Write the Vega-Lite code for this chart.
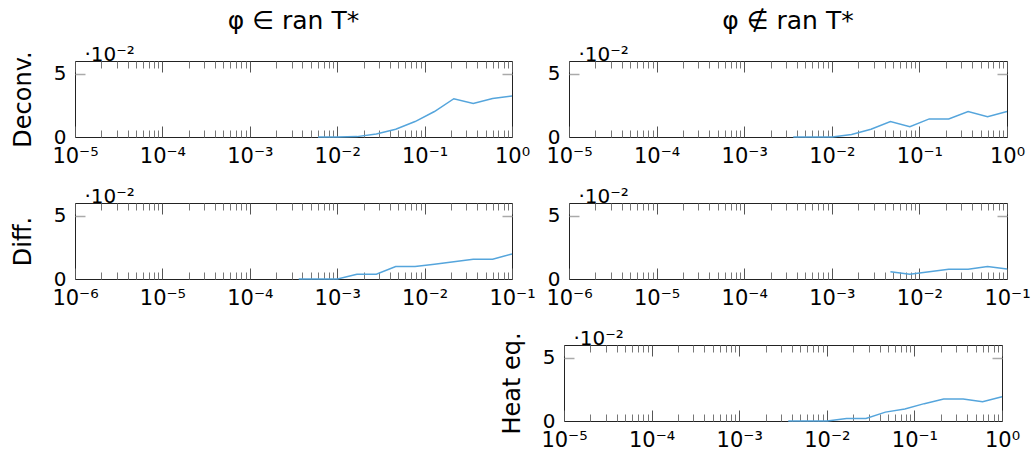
{
 "$schema": "https://vega.github.io/schema/vega-lite/v6.json",
 "background": "white",
 "padding": {"left": 10, "top": 8, "right": 5, "bottom": 5},
 "datasets": {
  "deconvIn": [
   {"x": 0.00605, "y": 0}, {"x": 0.0101, "y": 0}, {"x": 0.0168, "y": 0.0003}, {"x": 0.028, "y": 0.0024},
   {"x": 0.0467, "y": 0.0061}, {"x": 0.0778, "y": 0.0122}, {"x": 0.1296, "y": 0.0201}, {"x": 0.216, "y": 0.0302},
   {"x": 0.36, "y": 0.0265}, {"x": 0.6, "y": 0.0304}, {"x": 1, "y": 0.0323}
  ],
  "deconvOut": [
   {"x": 0.00363, "y": 0}, {"x": 0.00605, "y": 0}, {"x": 0.0101, "y": 0}, {"x": 0.0168, "y": 0.002},
   {"x": 0.028, "y": 0.0061}, {"x": 0.0467, "y": 0.0122}, {"x": 0.0778, "y": 0.0082}, {"x": 0.1296, "y": 0.0143},
   {"x": 0.216, "y": 0.0143}, {"x": 0.36, "y": 0.0201}, {"x": 0.6, "y": 0.0161}, {"x": 1, "y": 0.0201}
  ],
  "diffIn": [
   {"x": 0.000363, "y": 0}, {"x": 0.000605, "y": 0}, {"x": 0.00101, "y": 0}, {"x": 0.00168, "y": 0.0037},
   {"x": 0.0028, "y": 0.0037}, {"x": 0.00467, "y": 0.0098}, {"x": 0.00778, "y": 0.0098}, {"x": 0.01296, "y": 0.0117},
   {"x": 0.0216, "y": 0.0137}, {"x": 0.036, "y": 0.0156}, {"x": 0.06, "y": 0.0156}, {"x": 0.1, "y": 0.0198}
  ],
  "diffOut": [
   {"x": 0.00467, "y": 0.0058}, {"x": 0.00778, "y": 0.0037}, {"x": 0.01296, "y": 0.0057}, {"x": 0.0216, "y": 0.0077},
   {"x": 0.036, "y": 0.0077}, {"x": 0.06, "y": 0.0098}, {"x": 0.1, "y": 0.0079}
  ],
  "heat": [
   {"x": 0.00363, "y": 0}, {"x": 0.00605, "y": 0}, {"x": 0.0101, "y": 0}, {"x": 0.0168, "y": 0.002},
   {"x": 0.028, "y": 0.002}, {"x": 0.0467, "y": 0.007}, {"x": 0.0778, "y": 0.0094}, {"x": 0.1296, "y": 0.0137},
   {"x": 0.216, "y": 0.0174}, {"x": 0.36, "y": 0.0174}, {"x": 0.6, "y": 0.0152}, {"x": 1, "y": 0.0191}
  ]
 },
 "config": {
  "font": "DejaVu Sans",
  "view": {"stroke": "#222", "strokeWidth": 1},
  "axis": {"domain": false, "grid": false, "labelFont": "DejaVu Sans", "labelFontSize": 20, "labelColor": "#000", "labelOverlap": false, "labelFlush": false, "labelBound": false, "tickColor": "#666", "tickWidth": 1, "titleFont": "DejaVu Sans", "titleFontWeight": "normal", "titleColor": "#000"},
  "title": {"font": "DejaVu Sans", "fontWeight": "normal", "fontSize": 25, "color": "#000"}
 },
 "bounds": "flush",
 "spacing": 142,
 "vconcat": [
  {
   "bounds": "flush",
   "spacing": 57,
   "hconcat": [
    {
     "width": 437, "height": 76,
     "data": {"name": "deconvIn"},
     "title": {"text": "φ ∈ ran T*", "offset": 10},
     "resolve": {"axis": {"x": "independent", "y": "independent"}},
     "layer": [
      {"mark": {"type": "line", "color": "#55a5dc", "strokeWidth": 1.5},
       "encoding": {
        "x": {"field": "x", "type": "quantitative", "scale": {"type": "log", "domain": [0.00001, 1], "nice": false}, "axis": {"orient": "bottom", "values": [0.00001, 0.0001, 0.001, 0.01, 0.1, 1], "ticks": false, "labelPadding": 8, "labelFontSize": 21, "title": null, "labelExpr": "'10' + (round(log(datum.value)/LN10) < 0 ? '⁻' : '') + substring('⁰¹²³⁴⁵⁶⁷⁸⁹', abs(round(log(datum.value)/LN10)), abs(round(log(datum.value)/LN10)) + 1)"}},
        "y": {"field": "y", "type": "quantitative", "scale": {"domain": [0, 0.06], "nice": false}, "axis": {"orient": "left", "values": [0, 0.05], "ticks": false, "labelPadding": 9, "labelExpr": "'' + round(datum.value * 100)", "title": "Deconv.", "titleFontSize": 24, "titlePadding": 18}}
       }},
      {"mark": {"type": "line", "strokeOpacity": 0},
       "encoding": {
        "x": {"field": "x", "type": "quantitative", "scale": {"type": "log", "domain": [0.00001, 1], "nice": false}, "axis": {"orient": "bottom", "values": [0.00001, 0.0001, 0.001, 0.01, 0.1, 1], "labels": false, "tickSize": -11, "tickColor": "#555", "title": null}},
        "y": {"field": "y", "type": "quantitative", "scale": {"domain": [0, 0.06], "nice": false}, "axis": {"orient": "left", "values": [0.05], "labels": false, "tickSize": -10, "tickColor": "#aaa", "tickWidth": 1.5, "title": null}}
       }},
      {"mark": {"type": "line", "strokeOpacity": 0},
       "encoding": {
        "x": {"field": "x", "type": "quantitative", "scale": {"type": "log", "domain": [0.00001, 1], "nice": false}, "axis": {"orient": "bottom", "values": [2e-5,3e-5,4e-5,5e-5,6e-5,7e-5,8e-5,9e-5,2e-4,3e-4,4e-4,5e-4,6e-4,7e-4,8e-4,9e-4,0.002,0.003,0.004,0.005,0.006,0.007,0.008,0.009,0.02,0.03,0.04,0.05,0.06,0.07,0.08,0.09,0.2,0.3,0.4,0.5,0.6,0.7,0.8,0.9], "labels": false, "tickSize": -7, "tickColor": "#777", "title": null}},
        "y": {"field": "y", "type": "quantitative", "scale": {"domain": [0, 0.06], "nice": false}, "axis": {"orient": "right", "values": [0.05], "labels": false, "tickSize": -10, "tickColor": "#aaa", "tickWidth": 1.5, "title": null}}
       }},
      {"mark": {"type": "line", "strokeOpacity": 0},
       "encoding": {
        "x": {"field": "x", "type": "quantitative", "scale": {"type": "log", "domain": [0.00001, 1], "nice": false}, "axis": {"orient": "top", "values": [0.00001, 0.0001, 0.001, 0.01, 0.1, 1], "labels": false, "tickSize": -11, "tickColor": "#555", "title": "·10⁻²", "titleFontSize": 20, "titleX": 9, "titleY": -1, "titleAlign": "left", "titleBaseline": "alphabetic", "titleAngle": 0}},
        "y": {"field": "y", "type": "quantitative", "scale": {"domain": [0, 0.06], "nice": false}, "axis": null}
       }},
      {"mark": {"type": "line", "strokeOpacity": 0},
       "encoding": {
        "x": {"field": "x", "type": "quantitative", "scale": {"type": "log", "domain": [0.00001, 1], "nice": false}, "axis": {"orient": "top", "values": [2e-5,3e-5,4e-5,5e-5,6e-5,7e-5,8e-5,9e-5,2e-4,3e-4,4e-4,5e-4,6e-4,7e-4,8e-4,9e-4,0.002,0.003,0.004,0.005,0.006,0.007,0.008,0.009,0.02,0.03,0.04,0.05,0.06,0.07,0.08,0.09,0.2,0.3,0.4,0.5,0.6,0.7,0.8,0.9], "labels": false, "tickSize": -7, "tickColor": "#777", "title": null}},
        "y": {"field": "y", "type": "quantitative", "scale": {"domain": [0, 0.06], "nice": false}, "axis": null}
       }}
     ]
    },
    {
     "width": 438, "height": 76,
     "data": {"name": "deconvOut"},
     "title": {"text": "φ ∉ ran T*", "offset": 10},
     "resolve": {"axis": {"x": "independent", "y": "independent"}},
     "layer": [
      {"mark": {"type": "line", "color": "#55a5dc", "strokeWidth": 1.5},
       "encoding": {
        "x": {"field": "x", "type": "quantitative", "scale": {"type": "log", "domain": [0.00001, 1], "nice": false}, "axis": {"orient": "bottom", "values": [0.00001, 0.0001, 0.001, 0.01, 0.1, 1], "ticks": false, "labelPadding": 8, "labelFontSize": 21, "title": null, "labelExpr": "'10' + (round(log(datum.value)/LN10) < 0 ? '⁻' : '') + substring('⁰¹²³⁴⁵⁶⁷⁸⁹', abs(round(log(datum.value)/LN10)), abs(round(log(datum.value)/LN10)) + 1)"}},
        "y": {"field": "y", "type": "quantitative", "scale": {"domain": [0, 0.06], "nice": false}, "axis": {"orient": "left", "values": [0, 0.05], "ticks": false, "labelPadding": 9, "labelExpr": "'' + round(datum.value * 100)", "title": null}}
       }},
      {"mark": {"type": "line", "strokeOpacity": 0},
       "encoding": {
        "x": {"field": "x", "type": "quantitative", "scale": {"type": "log", "domain": [0.00001, 1], "nice": false}, "axis": {"orient": "bottom", "values": [0.00001, 0.0001, 0.001, 0.01, 0.1, 1], "labels": false, "tickSize": -11, "tickColor": "#555", "title": null}},
        "y": {"field": "y", "type": "quantitative", "scale": {"domain": [0, 0.06], "nice": false}, "axis": {"orient": "left", "values": [0.05], "labels": false, "tickSize": -10, "tickColor": "#aaa", "tickWidth": 1.5, "title": null}}
       }},
      {"mark": {"type": "line", "strokeOpacity": 0},
       "encoding": {
        "x": {"field": "x", "type": "quantitative", "scale": {"type": "log", "domain": [0.00001, 1], "nice": false}, "axis": {"orient": "bottom", "values": [2e-5,3e-5,4e-5,5e-5,6e-5,7e-5,8e-5,9e-5,2e-4,3e-4,4e-4,5e-4,6e-4,7e-4,8e-4,9e-4,0.002,0.003,0.004,0.005,0.006,0.007,0.008,0.009,0.02,0.03,0.04,0.05,0.06,0.07,0.08,0.09,0.2,0.3,0.4,0.5,0.6,0.7,0.8,0.9], "labels": false, "tickSize": -7, "tickColor": "#777", "title": null}},
        "y": {"field": "y", "type": "quantitative", "scale": {"domain": [0, 0.06], "nice": false}, "axis": {"orient": "right", "values": [0.05], "labels": false, "tickSize": -10, "tickColor": "#aaa", "tickWidth": 1.5, "title": null}}
       }},
      {"mark": {"type": "line", "strokeOpacity": 0},
       "encoding": {
        "x": {"field": "x", "type": "quantitative", "scale": {"type": "log", "domain": [0.00001, 1], "nice": false}, "axis": {"orient": "top", "values": [0.00001, 0.0001, 0.001, 0.01, 0.1, 1], "labels": false, "tickSize": -11, "tickColor": "#555", "title": "·10⁻²", "titleFontSize": 20, "titleX": 9, "titleY": -1, "titleAlign": "left", "titleBaseline": "alphabetic", "titleAngle": 0}},
        "y": {"field": "y", "type": "quantitative", "scale": {"domain": [0, 0.06], "nice": false}, "axis": null}
       }},
      {"mark": {"type": "line", "strokeOpacity": 0},
       "encoding": {
        "x": {"field": "x", "type": "quantitative", "scale": {"type": "log", "domain": [0.00001, 1], "nice": false}, "axis": {"orient": "top", "values": [2e-5,3e-5,4e-5,5e-5,6e-5,7e-5,8e-5,9e-5,2e-4,3e-4,4e-4,5e-4,6e-4,7e-4,8e-4,9e-4,0.002,0.003,0.004,0.005,0.006,0.007,0.008,0.009,0.02,0.03,0.04,0.05,0.06,0.07,0.08,0.09,0.2,0.3,0.4,0.5,0.6,0.7,0.8,0.9], "labels": false, "tickSize": -7, "tickColor": "#777", "title": null}},
        "y": {"field": "y", "type": "quantitative", "scale": {"domain": [0, 0.06], "nice": false}, "axis": null}
       }}
     ]
    }
   ]
  },
  {
   "bounds": "flush",
   "spacing": 57,
   "hconcat": [
    {
     "width": 437, "height": 76,
     "data": {"name": "diffIn"},
     "resolve": {"axis": {"x": "independent", "y": "independent"}},
     "layer": [
      {"mark": {"type": "line", "color": "#55a5dc", "strokeWidth": 1.5},
       "encoding": {
        "x": {"field": "x", "type": "quantitative", "scale": {"type": "log", "domain": [0.000001, 0.1], "nice": false}, "axis": {"orient": "bottom", "values": [0.000001, 0.00001, 0.0001, 0.001, 0.01, 0.1], "ticks": false, "labelPadding": 8, "labelFontSize": 21, "title": null, "labelExpr": "'10' + (round(log(datum.value)/LN10) < 0 ? '⁻' : '') + substring('⁰¹²³⁴⁵⁶⁷⁸⁹', abs(round(log(datum.value)/LN10)), abs(round(log(datum.value)/LN10)) + 1)"}},
        "y": {"field": "y", "type": "quantitative", "scale": {"domain": [0, 0.06], "nice": false}, "axis": {"orient": "left", "values": [0, 0.05], "ticks": false, "labelPadding": 9, "labelExpr": "'' + round(datum.value * 100)", "title": "Diff.", "titleFontSize": 24, "titlePadding": 18}}
       }},
      {"mark": {"type": "line", "strokeOpacity": 0},
       "encoding": {
        "x": {"field": "x", "type": "quantitative", "scale": {"type": "log", "domain": [0.000001, 0.1], "nice": false}, "axis": {"orient": "bottom", "values": [0.000001, 0.00001, 0.0001, 0.001, 0.01, 0.1], "labels": false, "tickSize": -11, "tickColor": "#555", "title": null}},
        "y": {"field": "y", "type": "quantitative", "scale": {"domain": [0, 0.06], "nice": false}, "axis": {"orient": "left", "values": [0.05], "labels": false, "tickSize": -10, "tickColor": "#aaa", "tickWidth": 1.5, "title": null}}
       }},
      {"mark": {"type": "line", "strokeOpacity": 0},
       "encoding": {
        "x": {"field": "x", "type": "quantitative", "scale": {"type": "log", "domain": [0.000001, 0.1], "nice": false}, "axis": {"orient": "bottom", "values": [2e-6,3e-6,4e-6,5e-6,6e-6,7e-6,8e-6,9e-6,2e-5,3e-5,4e-5,5e-5,6e-5,7e-5,8e-5,9e-5,2e-4,3e-4,4e-4,5e-4,6e-4,7e-4,8e-4,9e-4,0.002,0.003,0.004,0.005,0.006,0.007,0.008,0.009,0.02,0.03,0.04,0.05,0.06,0.07,0.08,0.09], "labels": false, "tickSize": -7, "tickColor": "#777", "title": null}},
        "y": {"field": "y", "type": "quantitative", "scale": {"domain": [0, 0.06], "nice": false}, "axis": {"orient": "right", "values": [0.05], "labels": false, "tickSize": -10, "tickColor": "#aaa", "tickWidth": 1.5, "title": null}}
       }},
      {"mark": {"type": "line", "strokeOpacity": 0},
       "encoding": {
        "x": {"field": "x", "type": "quantitative", "scale": {"type": "log", "domain": [0.000001, 0.1], "nice": false}, "axis": {"orient": "top", "values": [0.000001, 0.00001, 0.0001, 0.001, 0.01, 0.1], "labels": false, "tickSize": -11, "tickColor": "#555", "title": "·10⁻²", "titleFontSize": 20, "titleX": 9, "titleY": -1, "titleAlign": "left", "titleBaseline": "alphabetic", "titleAngle": 0}},
        "y": {"field": "y", "type": "quantitative", "scale": {"domain": [0, 0.06], "nice": false}, "axis": null}
       }},
      {"mark": {"type": "line", "strokeOpacity": 0},
       "encoding": {
        "x": {"field": "x", "type": "quantitative", "scale": {"type": "log", "domain": [0.000001, 0.1], "nice": false}, "axis": {"orient": "top", "values": [2e-6,3e-6,4e-6,5e-6,6e-6,7e-6,8e-6,9e-6,2e-5,3e-5,4e-5,5e-5,6e-5,7e-5,8e-5,9e-5,2e-4,3e-4,4e-4,5e-4,6e-4,7e-4,8e-4,9e-4,0.002,0.003,0.004,0.005,0.006,0.007,0.008,0.009,0.02,0.03,0.04,0.05,0.06,0.07,0.08,0.09], "labels": false, "tickSize": -7, "tickColor": "#777", "title": null}},
        "y": {"field": "y", "type": "quantitative", "scale": {"domain": [0, 0.06], "nice": false}, "axis": null}
       }}
     ]
    },
    {
     "width": 438, "height": 76,
     "data": {"name": "diffOut"},
     "resolve": {"axis": {"x": "independent", "y": "independent"}},
     "layer": [
      {"mark": {"type": "line", "color": "#55a5dc", "strokeWidth": 1.5},
       "encoding": {
        "x": {"field": "x", "type": "quantitative", "scale": {"type": "log", "domain": [0.000001, 0.1], "nice": false}, "axis": {"orient": "bottom", "values": [0.000001, 0.00001, 0.0001, 0.001, 0.01, 0.1], "ticks": false, "labelPadding": 8, "labelFontSize": 21, "title": null, "labelExpr": "'10' + (round(log(datum.value)/LN10) < 0 ? '⁻' : '') + substring('⁰¹²³⁴⁵⁶⁷⁸⁹', abs(round(log(datum.value)/LN10)), abs(round(log(datum.value)/LN10)) + 1)"}},
        "y": {"field": "y", "type": "quantitative", "scale": {"domain": [0, 0.06], "nice": false}, "axis": {"orient": "left", "values": [0, 0.05], "ticks": false, "labelPadding": 9, "labelExpr": "'' + round(datum.value * 100)", "title": null}}
       }},
      {"mark": {"type": "line", "strokeOpacity": 0},
       "encoding": {
        "x": {"field": "x", "type": "quantitative", "scale": {"type": "log", "domain": [0.000001, 0.1], "nice": false}, "axis": {"orient": "bottom", "values": [0.000001, 0.00001, 0.0001, 0.001, 0.01, 0.1], "labels": false, "tickSize": -11, "tickColor": "#555", "title": null}},
        "y": {"field": "y", "type": "quantitative", "scale": {"domain": [0, 0.06], "nice": false}, "axis": {"orient": "left", "values": [0.05], "labels": false, "tickSize": -10, "tickColor": "#aaa", "tickWidth": 1.5, "title": null}}
       }},
      {"mark": {"type": "line", "strokeOpacity": 0},
       "encoding": {
        "x": {"field": "x", "type": "quantitative", "scale": {"type": "log", "domain": [0.000001, 0.1], "nice": false}, "axis": {"orient": "bottom", "values": [2e-6,3e-6,4e-6,5e-6,6e-6,7e-6,8e-6,9e-6,2e-5,3e-5,4e-5,5e-5,6e-5,7e-5,8e-5,9e-5,2e-4,3e-4,4e-4,5e-4,6e-4,7e-4,8e-4,9e-4,0.002,0.003,0.004,0.005,0.006,0.007,0.008,0.009,0.02,0.03,0.04,0.05,0.06,0.07,0.08,0.09], "labels": false, "tickSize": -7, "tickColor": "#777", "title": null}},
        "y": {"field": "y", "type": "quantitative", "scale": {"domain": [0, 0.06], "nice": false}, "axis": {"orient": "right", "values": [0.05], "labels": false, "tickSize": -10, "tickColor": "#aaa", "tickWidth": 1.5, "title": null}}
       }},
      {"mark": {"type": "line", "strokeOpacity": 0},
       "encoding": {
        "x": {"field": "x", "type": "quantitative", "scale": {"type": "log", "domain": [0.000001, 0.1], "nice": false}, "axis": {"orient": "top", "values": [0.000001, 0.00001, 0.0001, 0.001, 0.01, 0.1], "labels": false, "tickSize": -11, "tickColor": "#555", "title": "·10⁻²", "titleFontSize": 20, "titleX": 9, "titleY": -1, "titleAlign": "left", "titleBaseline": "alphabetic", "titleAngle": 0}},
        "y": {"field": "y", "type": "quantitative", "scale": {"domain": [0, 0.06], "nice": false}, "axis": null}
       }},
      {"mark": {"type": "line", "strokeOpacity": 0},
       "encoding": {
        "x": {"field": "x", "type": "quantitative", "scale": {"type": "log", "domain": [0.000001, 0.1], "nice": false}, "axis": {"orient": "top", "values": [2e-6,3e-6,4e-6,5e-6,6e-6,7e-6,8e-6,9e-6,2e-5,3e-5,4e-5,5e-5,6e-5,7e-5,8e-5,9e-5,2e-4,3e-4,4e-4,5e-4,6e-4,7e-4,8e-4,9e-4,0.002,0.003,0.004,0.005,0.006,0.007,0.008,0.009,0.02,0.03,0.04,0.05,0.06,0.07,0.08,0.09], "labels": false, "tickSize": -7, "tickColor": "#777", "title": null}},
        "y": {"field": "y", "type": "quantitative", "scale": {"domain": [0, 0.06], "nice": false}, "axis": null}
       }}
     ]
    }
   ]
  },
  {
   "bounds": "flush",
   "spacing": 52,
   "hconcat": [
    {
     "width": 437, "height": 76,
     "data": {"values": []},
     "mark": "point",
     "encoding": {},
     "view": {"stroke": null}
    },
    {
     "width": 438, "height": 76,
     "data": {"name": "heat"},
     "resolve": {"axis": {"x": "independent", "y": "independent"}},
     "layer": [
      {"mark": {"type": "line", "color": "#55a5dc", "strokeWidth": 1.5},
       "encoding": {
        "x": {"field": "x", "type": "quantitative", "scale": {"type": "log", "domain": [0.00001, 1], "nice": false}, "axis": {"orient": "bottom", "values": [0.00001, 0.0001, 0.001, 0.01, 0.1, 1], "ticks": false, "labelPadding": 8, "labelFontSize": 21, "title": null, "labelExpr": "'10' + (round(log(datum.value)/LN10) < 0 ? '⁻' : '') + substring('⁰¹²³⁴⁵⁶⁷⁸⁹', abs(round(log(datum.value)/LN10)), abs(round(log(datum.value)/LN10)) + 1)"}},
        "y": {"field": "y", "type": "quantitative", "scale": {"domain": [0, 0.06], "nice": false}, "axis": {"orient": "left", "values": [0, 0.05], "ticks": false, "labelPadding": 9, "labelExpr": "'' + round(datum.value * 100)", "title": "Heat eq.", "titleFontSize": 24, "titlePadding": 18}}
       }},
      {"mark": {"type": "line", "strokeOpacity": 0},
       "encoding": {
        "x": {"field": "x", "type": "quantitative", "scale": {"type": "log", "domain": [0.00001, 1], "nice": false}, "axis": {"orient": "bottom", "values": [0.00001, 0.0001, 0.001, 0.01, 0.1, 1], "labels": false, "tickSize": -11, "tickColor": "#555", "title": null}},
        "y": {"field": "y", "type": "quantitative", "scale": {"domain": [0, 0.06], "nice": false}, "axis": {"orient": "left", "values": [0.05], "labels": false, "tickSize": -10, "tickColor": "#aaa", "tickWidth": 1.5, "title": null}}
       }},
      {"mark": {"type": "line", "strokeOpacity": 0},
       "encoding": {
        "x": {"field": "x", "type": "quantitative", "scale": {"type": "log", "domain": [0.00001, 1], "nice": false}, "axis": {"orient": "bottom", "values": [2e-5,3e-5,4e-5,5e-5,6e-5,7e-5,8e-5,9e-5,2e-4,3e-4,4e-4,5e-4,6e-4,7e-4,8e-4,9e-4,0.002,0.003,0.004,0.005,0.006,0.007,0.008,0.009,0.02,0.03,0.04,0.05,0.06,0.07,0.08,0.09,0.2,0.3,0.4,0.5,0.6,0.7,0.8,0.9], "labels": false, "tickSize": -7, "tickColor": "#777", "title": null}},
        "y": {"field": "y", "type": "quantitative", "scale": {"domain": [0, 0.06], "nice": false}, "axis": {"orient": "right", "values": [0.05], "labels": false, "tickSize": -10, "tickColor": "#aaa", "tickWidth": 1.5, "title": null}}
       }},
      {"mark": {"type": "line", "strokeOpacity": 0},
       "encoding": {
        "x": {"field": "x", "type": "quantitative", "scale": {"type": "log", "domain": [0.00001, 1], "nice": false}, "axis": {"orient": "top", "values": [0.00001, 0.0001, 0.001, 0.01, 0.1, 1], "labels": false, "tickSize": -11, "tickColor": "#555", "title": "·10⁻²", "titleFontSize": 20, "titleX": 9, "titleY": -1, "titleAlign": "left", "titleBaseline": "alphabetic", "titleAngle": 0}},
        "y": {"field": "y", "type": "quantitative", "scale": {"domain": [0, 0.06], "nice": false}, "axis": null}
       }},
      {"mark": {"type": "line", "strokeOpacity": 0},
       "encoding": {
        "x": {"field": "x", "type": "quantitative", "scale": {"type": "log", "domain": [0.00001, 1], "nice": false}, "axis": {"orient": "top", "values": [2e-5,3e-5,4e-5,5e-5,6e-5,7e-5,8e-5,9e-5,2e-4,3e-4,4e-4,5e-4,6e-4,7e-4,8e-4,9e-4,0.002,0.003,0.004,0.005,0.006,0.007,0.008,0.009,0.02,0.03,0.04,0.05,0.06,0.07,0.08,0.09,0.2,0.3,0.4,0.5,0.6,0.7,0.8,0.9], "labels": false, "tickSize": -7, "tickColor": "#777", "title": null}},
        "y": {"field": "y", "type": "quantitative", "scale": {"domain": [0, 0.06], "nice": false}, "axis": null}
       }}
     ]
    }
   ]
  }
 ]
}
